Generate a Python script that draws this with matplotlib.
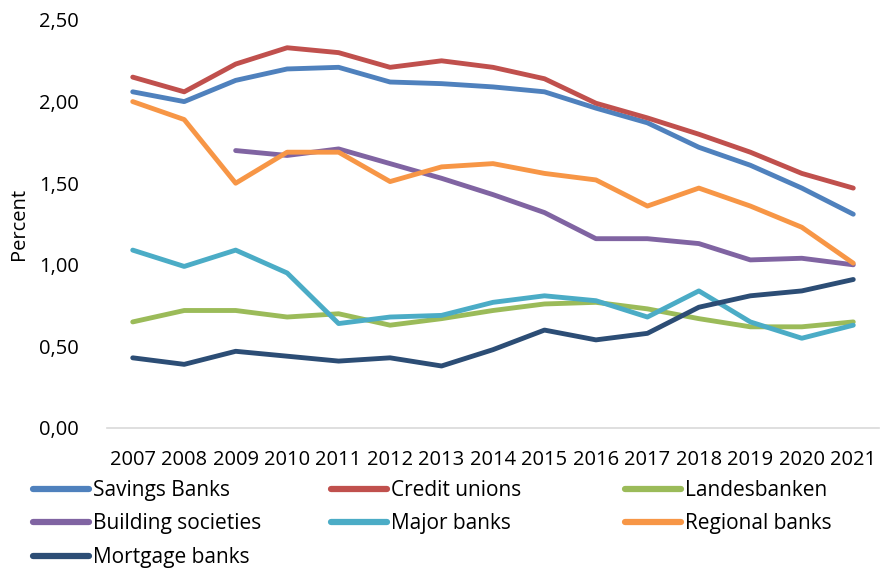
import matplotlib
matplotlib.use("Agg")
import matplotlib.pyplot as plt
from matplotlib.lines import Line2D
import numpy as np

plt.rcParams['font.family'] = ['Open Sans', 'DejaVu Sans']

years = ["2007", "2008", "2009", "2010", "2011", "2012", "2013", "2014",
         "2015", "2016", "2017", "2018", "2019", "2020", "2021"]

savings_banks = [2.06, 2.00, 2.13, 2.20, 2.21, 2.12, 2.11, 2.09, 2.06, 1.96, 1.87, 1.72, 1.61, 1.47, 1.31]
credit_unions = [2.15, 2.06, 2.23, 2.33, 2.30, 2.21, 2.25, 2.21, 2.14, 1.99, 1.90, 1.80, 1.69, 1.56, 1.47]
landesbanken = [0.65, 0.72, 0.72, 0.68, 0.70, 0.63, 0.67, 0.72, 0.76, 0.77, 0.73, 0.67, 0.62, 0.62, 0.65]
building_societies = [np.nan, np.nan, 1.70, 1.67, 1.71, 1.62, 1.53, 1.43, 1.32, 1.16, 1.16, 1.13, 1.03, 1.04, 1.00]
major_banks = [1.09, 0.99, 1.09, 0.95, 0.64, 0.68, 0.69, 0.77, 0.81, 0.78, 0.68, 0.84, 0.65, 0.55, 0.63]
regional_banks = [2.00, 1.89, 1.50, 1.69, 1.69, 1.51, 1.60, 1.62, 1.56, 1.52, 1.36, 1.47, 1.36, 1.23, 1.01]
mortgage_banks = [0.43, 0.39, 0.47, 0.44, 0.41, 0.43, 0.38, 0.48, 0.60, 0.54, 0.58, 0.74, 0.81, 0.84, 0.91]

series = [
    ("Savings Banks", savings_banks, "#4F81BD"),
    ("Credit unions", credit_unions, "#C0504D"),
    ("Landesbanken", landesbanken, "#9BBB59"),
    ("Building societies", building_societies, "#8064A2"),
    ("Major banks", major_banks, "#4BACC6"),
    ("Regional banks", regional_banks, "#F79646"),
    ("Mortgage banks", mortgage_banks, "#2C4D75"),
]

fig = plt.figure(figsize=(8.84, 5.69), dpi=100)
ax = fig.add_axes([107/884, 1 - 428/569, (879 - 107)/884, (428 - 20)/569])

x = np.arange(len(years))
handles = {}
for name, vals, col in series:
    ln, = ax.plot(x, vals, color=col, lw=3.5, solid_capstyle='round',
                  solid_joinstyle='round', label=name)
    handles[name] = ln

ax.set_xlim(-0.5, len(years) - 0.5)
ax.set_ylim(0, 2.5)
yt = np.arange(0, 2.51, 0.5)
ax.set_yticks(yt)
ax.set_yticklabels([f"{v:.2f}".replace('.', ',') for v in yt])
ax.set_xticks(x)
ax.set_xticklabels(years)
ax.tick_params(axis='both', length=0, labelsize=14.5, colors='black')
ax.tick_params(axis='y', pad=20)
ax.tick_params(axis='x', pad=16)
for s in ['top', 'right', 'left']:
    ax.spines[s].set_visible(False)
ax.spines['bottom'].set_color('#D9D9D9')
ax.spines['bottom'].set_linewidth(1.2)

ax.set_ylabel("Percent", fontsize=14.5)
ax.yaxis.set_label_coords(-0.101, 0.5)

cols = [["Savings Banks", "Building societies", "Mortgage banks"],
        ["Credit unions", "Major banks"],
        ["Landesbanken", "Regional banks"]]
xstarts = [33, 331, 625]
for names, xs in zip(cols, xstarts):
    hs = [Line2D([], [], color=handles[n].get_color(), lw=4.5, solid_capstyle='round') for n in names]
    fig.legend(hs, names, loc='upper left', bbox_to_anchor=(xs/884, 1 - 480/569),
               frameon=False, fontsize=15, handlelength=2.7, handletextpad=0.2,
               labelspacing=0.6, borderpad=0, borderaxespad=0)

fig.savefig("out.png", dpi=100)
